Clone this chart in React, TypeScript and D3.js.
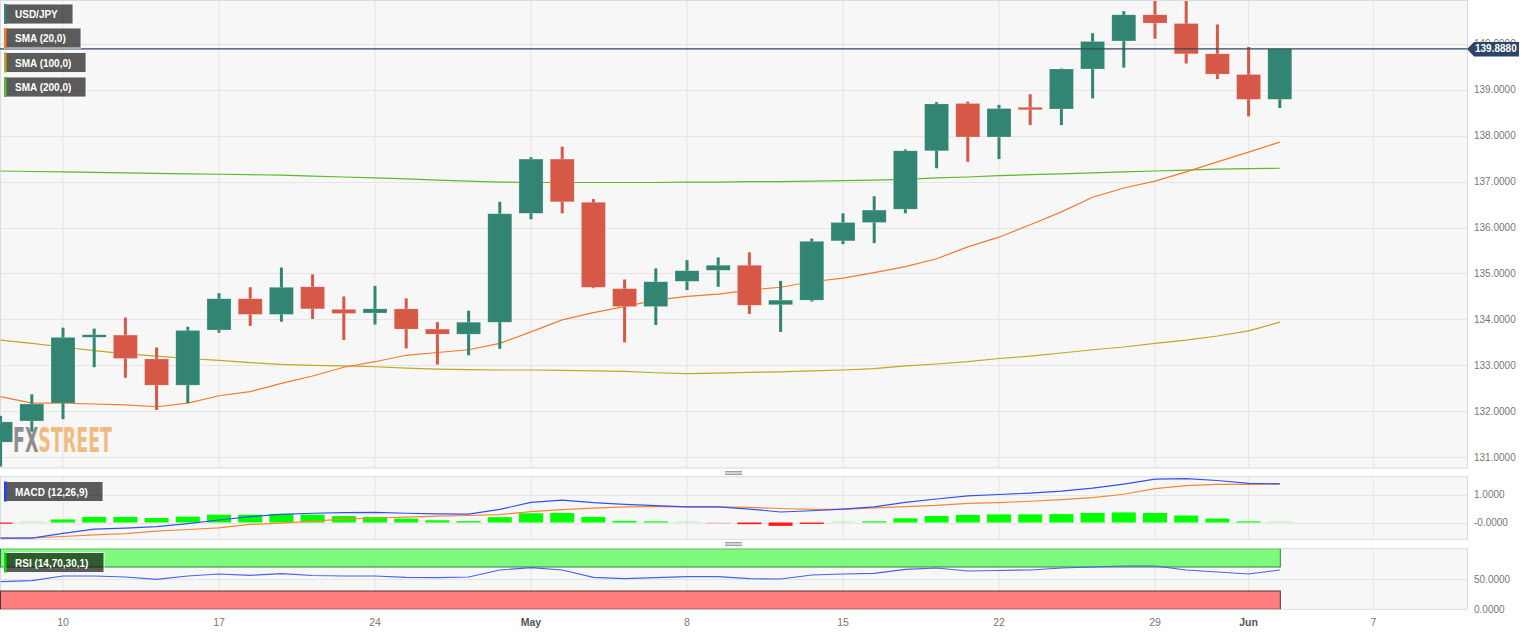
import React from "react";
import * as d3 from "d3";

const dates = [
  "2023-04-06", "2023-04-07", "2023-04-10", "2023-04-11", "2023-04-12", "2023-04-13", "2023-04-14",
  "2023-04-17", "2023-04-18", "2023-04-19", "2023-04-20", "2023-04-21",
  "2023-04-24", "2023-04-25", "2023-04-26", "2023-04-27", "2023-04-28",
  "2023-05-01", "2023-05-02", "2023-05-03", "2023-05-04", "2023-05-05",
  "2023-05-08", "2023-05-09", "2023-05-10", "2023-05-11", "2023-05-12",
  "2023-05-15", "2023-05-16", "2023-05-17", "2023-05-18", "2023-05-19",
  "2023-05-22", "2023-05-23", "2023-05-24", "2023-05-25", "2023-05-26",
  "2023-05-29", "2023-05-30", "2023-05-31", "2023-06-01", "2023-06-02",
];

const open = [131.33, 131.79, 132.18, 133.62, 133.66, 133.14, 132.57, 133.77, 134.45, 134.11, 134.71, 134.22, 134.14, 134.23, 133.79, 133.68, 133.94, 136.31, 137.49, 136.55, 134.67, 134.28, 134.83, 135.07, 135.18, 134.32, 134.42, 135.71, 136.11, 136.4, 137.67, 138.7, 137.97, 138.6, 138.58, 139.45, 140.06, 140.63, 140.44, 139.78, 139.33, 138.79];
const high = [131.9, 132.37, 133.82, 133.8, 134.04, 133.39, 133.84, 134.57, 134.7, 135.13, 134.98, 134.5, 134.73, 134.46, 133.94, 134.19, 136.56, 137.53, 137.76, 136.62, 134.87, 135.11, 135.29, 135.35, 135.46, 134.84, 135.76, 136.31, 136.68, 137.7, 138.73, 138.74, 138.67, 138.9, 139.46, 140.23, 140.71, 140.95, 140.95, 140.42, 139.93, 139.89];
const low = [130.8, 131.56, 131.83, 132.96, 132.73, 132.03, 132.18, 133.71, 133.86, 133.95, 134.01, 133.55, 133.89, 133.37, 133.02, 133.22, 133.36, 136.18, 136.31, 134.68, 133.5, 133.88, 134.64, 134.71, 134.12, 133.73, 134.39, 135.64, 135.66, 136.31, 137.29, 137.43, 137.49, 138.23, 138.23, 138.81, 139.48, 140.11, 139.57, 139.23, 138.42, 138.6];
const close = [131.77, 132.16, 133.61, 133.66, 133.15, 132.57, 133.76, 134.45, 134.11, 134.7, 134.23, 134.13, 134.23, 133.79, 133.68, 133.94, 136.3, 137.49, 136.56, 134.7, 134.28, 134.82, 135.06, 135.18, 134.31, 134.42, 135.7, 136.11, 136.38, 137.67, 138.69, 137.97, 138.59, 138.58, 139.45, 140.05, 140.63, 140.45, 139.78, 139.34, 138.79, 139.888];

const sma20 = [132.32, 132.18, 132.18, 132.16, 132.14, 132.1, 132.18, 132.34, 132.43, 132.61, 132.77, 132.96, 133.08, 133.22, 133.28, 133.34, 133.48, 133.73, 133.99, 134.15, 134.28, 134.42, 134.5, 134.55, 134.64, 134.7, 134.82, 134.9, 135.02, 135.15, 135.32, 135.58, 135.79, 136.06, 136.34, 136.66, 136.86, 137.01, 137.21, 137.43, 137.64, 137.86];
const sma100 = [133.55, 133.48, 133.4, 133.32, 133.25, 133.2, 133.15, 133.11, 133.06, 133.02, 133.0, 132.99, 132.97, 132.94, 132.92, 132.91, 132.9, 132.9, 132.89, 132.88, 132.87, 132.84, 132.82, 132.83, 132.85, 132.86, 132.88, 132.9, 132.93, 132.99, 133.03, 133.08, 133.15, 133.2, 133.27, 133.34, 133.4, 133.48, 133.55, 133.64, 133.75, 133.94];
const sma200 = [137.23, 137.22, 137.21, 137.2, 137.19, 137.18, 137.17, 137.16, 137.15, 137.14, 137.12, 137.1, 137.08, 137.06, 137.03, 137.01, 136.99, 136.98, 136.98, 136.98, 136.98, 136.98, 136.99, 136.99, 137.0, 137.0, 137.01, 137.02, 137.03, 137.05, 137.08, 137.1, 137.13, 137.15, 137.17, 137.19, 137.21, 137.23, 137.25, 137.27, 137.28, 137.29];

const macdLine = [-0.56, -0.56, -0.39, -0.24, -0.2, -0.15, -0.04, 0.09, 0.21, 0.29, 0.33, 0.35, 0.36, 0.33, 0.31, 0.3, 0.47, 0.72, 0.8, 0.71, 0.65, 0.6, 0.56, 0.56, 0.48, 0.375, 0.42, 0.48, 0.56, 0.72, 0.84, 0.95, 1.0, 1.05, 1.12, 1.23, 1.37, 1.55, 1.57, 1.5, 1.4, 1.38];
const signalLine = [-0.56, -0.55, -0.5, -0.44, -0.4, -0.31, -0.25, -0.19, -0.07, -0.02, 0.05, 0.12, 0.16, 0.19, 0.23, 0.25, 0.28, 0.39, 0.46, 0.51, 0.56, 0.57, 0.56, 0.56, 0.54, 0.5, 0.47, 0.47, 0.52, 0.57, 0.61, 0.68, 0.71, 0.76, 0.82, 0.89, 1.01, 1.21, 1.32, 1.36, 1.36, 1.37];
const macdHist = [-0.02, 0.005, 0.11, 0.2, 0.2, 0.16, 0.21, 0.28, 0.28, 0.31, 0.28, 0.23, 0.2, 0.14, 0.08, 0.05, 0.19, 0.33, 0.34, 0.2, 0.06, 0.03, 0.01, -0.005, -0.06, -0.12, -0.05, 0.01, 0.04, 0.15, 0.23, 0.27, 0.29, 0.29, 0.3, 0.34, 0.36, 0.34, 0.25, 0.14, 0.04, 0.01];

const rsi = [45.5, 47.2, 55, 55, 53.3, 49.5, 55, 58.3, 56.2, 58.8, 55.8, 55, 55, 52.8, 52.2, 53.3, 65, 68.8, 65, 52.8, 50.5, 52.2, 53.8, 53.8, 50.5, 50, 56.7, 58.3, 59.5, 66.2, 68.3, 63.3, 64.2, 65, 68.3, 70, 71.7, 71.7, 65, 61.7, 58.3, 65];

const priceTicks = [131, 132, 133, 134, 135, 136, 137, 138, 139, 140];
const macdTicks = [1, 0];
const rsiTicks = [50, 0];
const rsiUpper = 70;
const rsiLower = 30;
const dayTickDates = ["2023-04-10", "2023-04-17", "2023-04-24", "2023-05-01", "2023-05-08", "2023-05-15", "2023-05-22", "2023-05-29", "2023-06-01", "2023-06-07"];
const dayTickLabels = ["10", "17", "24", "May", "8", "15", "22", "29", "Jun", "7"];
const monthLabels = ["May", "Jun"];
const lastPrice = 139.888;

const FONT = "'Liberation Sans', Arial, Helvetica, sans-serif";
const UP = "#318572";
const DOWN = "#d65846";
const GRID = "#e5e5e5";
const BORDER = "#d6dbe7";
const PANEL_BG = "#f7f7f7";

function tradingIndex(d: string): number {
  const start = new Date(dates[0] + "T00:00:00Z");
  const end = new Date(d + "T00:00:00Z");
  const cur = new Date(start);
  let n = 0;
  while (cur < end) {
    cur.setUTCDate(cur.getUTCDate() + 1);
    const wd = cur.getUTCDay();
    if (wd !== 0 && wd !== 6) n++;
  }
  return n;
}

const PL = 0;
const PR = 1467;
const MAIN = { top: 1, bottom: 468 };
const MACD = { top: 476.7, bottom: 539.3 };
const RSI = { top: 548.7, bottom: 609.3 };

export default function App() {
  const x = d3.scaleLinear().domain([0, dates.length - 1]).range([0.6, 1279.8]);
  const yMain = d3.scaleLinear().domain([130.767, 140.93]).range([MAIN.bottom, MAIN.top]);
  const yMacd = d3.scaleLinear().domain([-0.6, 1.636]).range([MACD.bottom, MACD.top]);
  const yRsi = d3.scaleLinear().domain([-0.5, 100.5]).range([RSI.bottom, RSI.top]);

  const idx = dates.map((_, i) => i);
  const mkLine = (arr: number[], y: d3.ScaleLinear<number, number>) =>
    d3.line<number>().x((i) => x(i)).y((i) => y(arr[i])).curve(d3.curveLinear)(idx) || "";

  const bodyW = 24;
  const wickW = 3;
  const tickXs = dayTickDates.map((d) => x(tradingIndex(d)));
  const yLast = yMain(lastPrice);
  const lastX = x(dates.length - 1);

  const legend = (y: number, w: number, label: string, color: string) => (
    <g key={label}>
      <rect x={4} y={y} width={w} height={20} fill="rgba(0,0,0,0.63)" stroke="rgba(255,255,255,0.85)" strokeWidth={1} />
      <rect x={4} y={y} width={2.5} height={20} fill={color} />
      <text x={15} y={y + 14} fill="#fff" fontSize={10} fontWeight="bold" fontFamily={FONT}>{label}</text>
    </g>
  );

  const vGrid = (top: number, bottom: number) =>
    tickXs.map((tx, i) => <line key={"vg" + i} x1={tx} x2={tx} y1={top} y2={bottom} stroke={GRID} strokeWidth={1} />);

  const grip = (cy: number) => (
    <g>
      {[-1.5, 0, 1.5].map((d) => (
        <line key={d} x1={725} x2={742} y1={cy + d} y2={cy + d} stroke="#8a8a8a" strokeWidth={0.8} />
      ))}
    </g>
  );

  const wmFont = "'DejaVu Sans Condensed', 'DejaVu Sans', sans-serif";

  return (
    <svg width={1536} height={633} style={{ position: "absolute", left: 0, top: 0, background: "#fff" }}>
      <defs>
        <clipPath id="clipMain"><rect x={PL} y={MAIN.top} width={PR - PL} height={MAIN.bottom - MAIN.top} /></clipPath>
        <clipPath id="clipMacd"><rect x={PL} y={MACD.top} width={PR - PL} height={MACD.bottom - MACD.top} /></clipPath>
        <clipPath id="clipRsi"><rect x={PL} y={RSI.top} width={PR - PL} height={RSI.bottom - RSI.top} /></clipPath>
      </defs>

      {/* Main panel */}
      <rect x={PL + 0.5} y={MAIN.top - 0.5} width={PR - PL} height={MAIN.bottom - MAIN.top + 0.5} fill={PANEL_BG} stroke={BORDER} />
      <g clipPath="url(#clipMain)">
        {priceTicks.map((t) => (
          <line key={t} x1={PL} x2={PR} y1={Math.round(yMain(t)) + 0.5} y2={Math.round(yMain(t)) + 0.5} stroke={GRID} />
        ))}
        {vGrid(MAIN.top, MAIN.bottom)}
        <text x={13} y={452} fontFamily={wmFont} fontWeight="bold" fontSize={34} textLength={99} lengthAdjust="spacingAndGlyphs">
          <tspan fill="#8e8e8e">FX</tspan>
          <tspan fill="#f1bb80">STREET</tspan>
        </text>
        <path d={mkLine(sma100, yMain)} fill="none" stroke="#bcaa20" strokeWidth={1.2} />
        <path d={mkLine(sma200, yMain)} fill="none" stroke="#5cba2c" strokeWidth={1.2} />
        <path d={mkLine(sma20, yMain)} fill="none" stroke="#f47a2c" strokeWidth={1.2} />
        {idx.map((i) => {
          const up = close[i] >= open[i];
          const col = up ? UP : DOWN;
          const top = yMain(Math.max(open[i], close[i]));
          const bot = yMain(Math.min(open[i], close[i]));
          const h = Math.max(bot - top, 2.5);
          const cx = x(i);
          return (
            <g key={dates[i]}>
              <rect x={cx - wickW / 2} y={yMain(high[i])} width={wickW} height={yMain(low[i]) - yMain(high[i])} fill={col} />
              <rect x={cx - bodyW / 2} y={(top + bot) / 2 - h / 2} width={bodyW} height={h} fill={col} stroke="rgba(255,255,255,0.35)" strokeWidth={0.6} />
            </g>
          );
        })}
      </g>
      {/* last price line */}
      <line x1={PL} x2={PR} y1={yLast} y2={yLast} stroke="#34495e" strokeWidth={1.2} />
      {/* right axis main */}
      {priceTicks.map((t) => (
        <text key={t} x={1474} y={yMain(t)} dy="0.35em" fontSize={10} fill="#777" fontFamily={FONT}>{t.toFixed(4)}</text>
      ))}
      <path d={`M${PR},${yLast} L1474,${yLast - 7} L1519,${yLast - 7} L1519,${yLast + 7.5} L1474,${yLast + 7.5} Z`} fill="#2b4566" />
      <text x={1475} y={yLast} dy="0.36em" fontSize={10} fontWeight="bold" fill="#fff" fontFamily={FONT}>{lastPrice.toFixed(4)}</text>

      {legend(4, 69, "USD/JPY", "#318572")}
      {legend(28, 77, "SMA (20,0)", "#f47a2c")}
      {legend(52.5, 82, "SMA (100,0)", "#bcaa20")}
      {legend(77, 82, "SMA (200,0)", "#5cba2c")}

      {grip(473)}

      {/* MACD panel */}
      <rect x={PL + 0.5} y={MACD.top} width={PR - PL} height={MACD.bottom - MACD.top} fill={PANEL_BG} stroke={BORDER} />
      <g clipPath="url(#clipMacd)">
        {macdTicks.map((t) => (
          <line key={t} x1={PL} x2={PR} y1={Math.round(yMacd(t)) + 0.5} y2={Math.round(yMacd(t)) + 0.5} stroke={GRID} />
        ))}
        {vGrid(MACD.top, MACD.bottom)}
        {idx.map((i) => {
          const v = macdHist[i];
          const y0 = yMacd(0);
          const y1 = yMacd(v);
          const h = Math.max(Math.abs(y1 - y0), 1.2);
          const pale = Math.abs(v) < 0.02;
          return (
            <rect key={i} x={x(i) - bodyW / 2} y={v >= 0 ? y0 - h : y0} width={bodyW} height={h}
              fill={v >= 0 ? "#00ff00" : "#ff1a1a"} opacity={pale ? (Math.abs(v) < 0.015 ? 0.25 : 0.8) : 1} />
          );
        })}
        <path d={mkLine(signalLine, yMacd)} fill="none" stroke="#f5873a" strokeWidth={1.2} />
        <path d={mkLine(macdLine, yMacd)} fill="none" stroke="#3450ee" strokeWidth={1.2} />
      </g>
      {macdTicks.map((t) => (
        <text key={t} x={1474} y={yMacd(t)} dy="0.35em" fontSize={10} fill="#777" fontFamily={FONT}>{t === 0 ? "-0.0000" : t.toFixed(4)}</text>
      ))}
      {legend(481.5, 99, "MACD (12,26,9)", "#2040ff")}

      {grip(544)}

      {/* RSI panel */}
      <rect x={PL + 0.5} y={RSI.top} width={PR - PL} height={RSI.bottom - RSI.top} fill={PANEL_BG} stroke={BORDER} />
      <g clipPath="url(#clipRsi)">
        {rsiTicks.map((t) => (
          <line key={t} x1={PL} x2={PR} y1={Math.round(yRsi(t)) + 0.5} y2={Math.round(yRsi(t)) + 0.5} stroke={GRID} />
        ))}
        {vGrid(RSI.top, RSI.bottom)}
        <rect x={PL + 0.5} y={yRsi(100.5)} width={lastX - PL} height={yRsi(rsiUpper) - yRsi(100.5)} fill="#7cfa7c" stroke="#3a7d3a" strokeWidth={1} />
        <rect x={PL + 0.5} y={yRsi(rsiLower)} width={lastX - PL} height={yRsi(-0.5) - yRsi(rsiLower)} fill="#ff7e7e" stroke="#4a3434" strokeWidth={1} />
        <path d={mkLine(rsi, yRsi)} fill="none" stroke="#4763ee" strokeWidth={1.2} />
      </g>
      {rsiTicks.map((t) => (
        <text key={t} x={1474} y={yRsi(t)} dy="0.35em" fontSize={10} fill="#777" fontFamily={FONT}>{t.toFixed(4)}</text>
      ))}
      {legend(552.5, 100, "RSI (14,70,30,1)", "#00e000")}

      {/* bottom axis */}
      {dayTickLabels.map((l, i) => (
        <text key={l + i} x={tickXs[i]} y={622} dy="0.35em" textAnchor="middle" fontSize={10.5}
          fontWeight={monthLabels.includes(l) ? "bold" : "normal"} fill={monthLabels.includes(l) ? "#555" : "#777"} fontFamily={FONT}>{l}</text>
      ))}
    </svg>
  );
}
